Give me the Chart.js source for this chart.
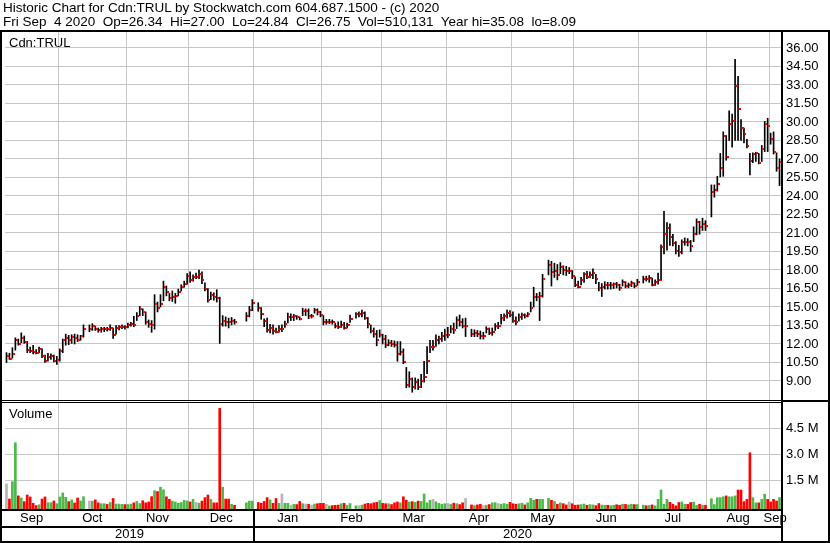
<!DOCTYPE html>
<html>
<head>
<meta charset="utf-8">
<script src="https://cdn.jsdelivr.net/npm/chart.js@4.4.1/dist/chart.umd.min.js"></script>
<style>
  html, body { margin: 0; padding: 0; background: #fff; }
  #wrap { position: relative; width: 830px; height: 543px; overflow: hidden; font-family: Arial, "Liberation Sans", sans-serif; color: #000; }
  #chart { position: absolute; left: 0; top: 0; display: block; }
  .txt { position: absolute; white-space: pre; font-size: 13.5px; line-height: 14px; }
  .lbl { position: absolute; white-space: pre; font-size: 13px; line-height: 15px; }
</style>
</head>
<body>
<div id="wrap">
  <canvas id="chart" width="830" height="543"></canvas>
  <div class="txt" style="left:3px;top:1px">Historic Chart for Cdn:TRUL by Stockwatch.com 604.687.1500 - (c) 2020</div>
  <div class="txt" style="left:3px;top:15px">Fri Sep  4 2020  Op=26.34  Hi=27.00  Lo=24.84  Cl=26.75  Vol=510,131  Year hi=35.08  lo=8.09</div>
  <div class="lbl" style="left:9px;top:35px">Cdn:TRUL</div>
  <div class="lbl" style="left:9px;top:406px">Volume</div>
</div>
<script>
// one slot per weekday, Sep 5 2019 .. Sep 4 2020; null = market holiday
const months = ['Sep', 'Oct', 'Nov', 'Dec', 'Jan', 'Feb', 'Mar', 'Apr', 'May', 'Jun', 'Jul', 'Aug', 'Sep'];
const monthDays = [18, 23, 21, 22, 23, 20, 22, 22, 21, 22, 23, 21, 4];
const years = ['2019', '2020'];
const yearDays = [84, 178];

const priceTicks = [9, 10.5, 12, 13.5, 15, 16.5, 18, 19.5, 21, 22.5, 24, 25.5, 27, 28.5, 30, 31.5, 33, 34.5, 36];
const volumeTicks = [1500000, 3000000, 4500000];

const closes = [
  11.0, 10.8, 11.15, 12.3, 12.0, 12.5, 12.2, 11.5, 11.45, 11.35, 11.3, 11.6, 11.0, 10.6, 10.95, 11.0, 10.65, 10.7,
  11.4, 12.3, 12.5, 12.35, 12.55, 12.5, 12.35, 12.65, 13.25, null, 13.25, 13.45, 13.25, 13.1, 13.2, 13.25, 13.2, 13.3, 12.75, 13.3, 13.35, 13.4, 13.35,
  13.55, 13.6, 13.5, 14.25, 14.8, 14.6, 13.75, 13.65, 13.5, 15.25, 14.9, 15.25, 16.65, 16.25, 15.7, 15.85, 15.9, 16.2, 16.65, 16.9, 17.5,
  17.2, 17.45, 17.45, 17.65, 17.2, 16.45, 15.6, 15.95, 15.85, 15.7, 13.65, 13.9, 13.8, 13.75, 13.85, 13.75, null, null, null, 14.25, 14.75, 15.3,
  null, 14.9, 14.45, 13.85, 13.15, 13.3, 13.05, 13.0, 13.25, 13.25, 13.6, 14.15, 14.15, 14.25, 14.15, 14.05, 14.65, 14.65, 14.25, 14.25, 14.75, 14.6, 14.35,
  13.75, 13.75, 13.8, 13.75, 13.45, 13.35, 13.55, 13.3, 13.5, 14.05, null, 14.4, 14.4, 14.55, 14.1, 13.6, 13.05, 12.8, 12.3, 12.75,
  12.4, 11.95, 12.1, 12.0, 11.95, 11.2, 11.35, 10.5, 8.65, 9.2, 8.55, 8.9, 8.55, 9.0, 9.35, 10.6, 11.75, 11.75, 12.35, 12.4, 12.65, 12.75,
  12.75, 13.2, 13.15, 13.95, 13.8, 13.45, 13.45, null, 12.8, 12.9, 12.8, 12.65, 12.65, 13.2, 12.9, 12.95, 13.45, 13.45, 14.1, 14.25, 14.55, 14.35,
  13.9, 13.75, 14.2, 14.35, 14.25, 14.45, 14.95, 15.85, 15.8, 15.9, 17.3, null, 18.4, 17.8, 17.95, 17.6, 18.25, 18.0, 17.95, 17.95, 17.5,
  16.8, 16.6, 17.15, 17.7, 17.4, 17.6, 17.75, 17.25, 16.55, 16.65, 16.8, 16.75, 16.8, 16.85, 16.8, 16.5, 17.05, 16.7, 16.75, 16.95, 16.7, 17.05,
  null, 17.3, 17.25, 17.35, 16.8, 17.05, 17.2, 19.9, 20.95, 21.4, 20.7, 20.15, 19.5, 19.45, 20.25, 20.3, 20.25, 19.95, 20.95, 21.9, 21.5, 21.75, 21.6,
  null, 24.3, 24.5, 25.0, 26.25, 28.9, 27.15, 29.85, 30.05, 32.95, 31.05, 29.55, 29.05, 28.05, 26.85, 27.4, 27.45, 26.7, 27.85, 29.8, 29.7,
  28.65, 27.6, 26.3, 26.75
];

const highs = [
  11.3, 11.25, 11.7, 12.5, 12.4, 12.9, 12.65, 12.2, 11.75, 11.9, 11.55, 11.75, 11.6, 11.1, 11.25, 11.2, 11.1, 11.0,
  11.6, 12.4, 12.8, 12.7, 12.75, 12.8, 12.75, 12.7, 13.55, null, 13.55, 13.65, 13.45, 13.3, 13.35, 13.35, 13.35, 13.55, 13.3, 13.5, 13.5, 13.55, 13.5,
  13.7, 13.75, 14.25, 14.55, 15.05, 14.85, 14.6, 13.95, 13.9, 16.0, 15.4, 16.0, 17.1, 16.7, 16.1, 16.3, 16.1, 16.45, 16.8, 17.1, 17.7,
  17.85, 17.6, 17.75, 18.0, 17.85, 16.95, 16.5, 16.2, 16.15, 16.4, 15.8, 14.3, 14.2, 14.1, 14.15, 14.0, null, null, null, 14.55, 15.05, 15.6,
  null, 15.35, 14.95, 14.05, 14.1, 13.6, 13.55, 13.3, 13.5, 13.55, 13.85, 14.5, 14.45, 14.4, 14.3, 14.2, 14.9, 14.85, 14.85, 14.4, 14.9, 14.85, 14.65,
  14.3, 14.0, 14.0, 13.95, 13.7, 13.8, 13.85, 13.75, 13.7, 14.35, null, 14.55, 14.6, 14.75, 14.6, 14.15, 13.55, 13.3, 13.1, 13.15,
  12.8, 12.7, 12.35, 12.3, 12.25, 12.2, 12.2, 11.6, 10.1, 9.75, 9.25, 9.25, 9.15, 9.55, 10.6, 11.8, 12.3, 12.3, 12.75, 12.65, 12.95, 13.2,
  13.35, 13.5, 13.7, 14.2, 14.35, 14.05, 14.1, null, 13.2, 13.15, 13.1, 13.05, 12.95, 13.4, 13.3, 13.3, 13.65, 13.75, 14.4, 14.45, 14.75, 14.7,
  14.6, 14.2, 14.45, 14.5, 14.45, 14.55, 15.4, 16.6, 16.1, 16.2, 17.65, null, 18.8, 18.7, 18.55, 18.45, 18.6, 18.35, 18.3, 18.2, 17.95,
  17.45, 17.1, 17.4, 17.8, 17.9, 17.85, 18.1, 17.65, 17.0, 16.9, 17.05, 17.0, 17.0, 16.95, 17.0, 16.85, 17.2, 17.05, 16.95, 17.1, 16.95, 17.25,
  null, 17.5, 17.5, 17.55, 17.35, 17.2, 17.75, 20.05, 22.75, 21.85, 21.75, 20.9, 20.3, 20.0, 20.45, 20.6, 20.55, 20.4, 21.5, 22.15, 21.95, 22.2, 22.0,
  null, 24.9, 24.9, 25.6, 27.45, 29.2, 28.9, 30.9, 30.65, 35.08, 33.7, 30.2, 29.5, 28.6, 27.45, 27.5, 27.55, 27.45, 28.1, 30.05, 30.3,
  29.1, 29.2, 27.5, 27.0
];

const lows = [
  10.5, 10.75, 10.85, 11.5, 11.9, 12.1, 12.05, 11.3, 11.3, 11.2, 11.2, 11.3, 10.9, 10.5, 10.6, 10.75, 10.55, 10.35,
  10.6, 11.3, 11.9, 11.95, 12.05, 12.0, 12.2, 12.3, 12.55, null, 13.0, 13.1, 13.1, 12.95, 12.95, 13.0, 13.05, 13.1, 12.45, 12.8, 13.15, 13.25, 13.2,
  13.3, 13.45, 13.4, 13.9, 14.3, 14.3, 13.6, 13.35, 12.95, 13.2, 14.6, 15.0, 15.5, 15.9, 15.5, 15.45, 15.3, 15.9, 16.3, 16.6, 16.85,
  17.0, 17.1, 17.3, 17.3, 16.9, 16.3, 15.4, 15.6, 15.55, 15.4, 12.05, 13.45, 13.45, 13.3, 13.55, 13.6, null, null, null, 13.85, 14.2, 14.7,
  null, 14.65, 14.0, 13.4, 12.95, 12.9, 12.8, 12.9, 12.95, 13.0, 13.35, 13.7, 13.9, 13.9, 14.0, 13.95, 14.3, 14.3, 14.05, 14.1, 14.5, 14.35, 14.2,
  13.55, 13.6, 13.65, 13.6, 13.3, 13.25, 13.35, 13.2, 13.3, 13.75, null, 14.1, 14.2, 14.2, 14.0, 13.3, 12.9, 12.55, 11.85, 12.55,
  12.0, 11.7, 11.85, 11.8, 11.75, 10.6, 11.1, 10.4, 8.45, 8.5, 8.09, 8.35, 8.3, 8.45, 8.9, 9.6, 11.3, 11.5, 11.8, 12.0, 12.2, 12.3,
  12.5, 12.9, 12.85, 13.25, 13.45, 13.3, 12.6, null, 12.6, 12.6, 12.6, 12.4, 12.4, 12.9, 12.75, 12.7, 13.1, 13.25, 13.6, 13.9, 14.1, 14.2,
  13.75, 13.55, 13.85, 14.0, 14.1, 14.2, 14.6, 15.0, 15.5, 13.9, 15.8, null, 17.6, 16.7, 17.4, 17.2, 17.7, 17.6, 17.55, 17.7, 17.3,
  16.65, 16.55, 16.8, 17.0, 17.3, 17.35, 17.3, 16.9, 16.3, 15.85, 16.45, 16.45, 16.45, 16.5, 16.55, 16.35, 16.7, 16.55, 16.55, 16.65, 16.55, 16.75,
  null, 16.95, 17.1, 17.0, 16.7, 16.75, 16.85, 17.15, 19.3, 19.6, 20.0, 19.95, 19.3, 19.1, 19.3, 20.0, 19.95, 19.5, 20.3, 20.85, 20.9, 21.2, 21.2,
  null, 22.3, 23.9, 24.4, 25.55, 25.6, 26.9, 28.5, 27.95, 28.5, 28.5, 28.5, 28.3, 27.9, 25.7, 26.7, 26.8, 26.6, 26.8, 27.6, 27.6,
  28.2, 27.4, 26.0, 24.84
];

const volumes = [
  1290000, 420000, 1420000, 3670000, 600000, 480000, 270000, 650000, 540000, 170000, 40000, 90000, 420000, 540000, 210000, 210000, 310000, 150000,
  540000, 770000, 520000, 270000, 370000, 190000, 480000, 310000, 550000, null, 300000, 300000, 370000, 200000, 150000, 150000, 110000, 220000, 450000, 130000, 130000, 110000, 100000,
  100000, 130000, 200000, 280000, 160000, 320000, 200000, 250000, 560000, 900000, 850000, 1100000, 950000, 550000, 400000, 300000, 250000, 170000, 220000, 350000, 310000,
  250000, 400000, 230000, 180000, 300000, 500000, 650000, 400000, 200000, 200000, 5650000, 1100000, 420000, 420000, 120000, 60000, null, null, null, 200000, 300000, 300000,
  null, 220000, 180000, 280000, 500000, 370000, 170000, 450000, 170000, 710000, 170000, 170000, 60000, 120000, 100000, 280000, 150000, 130000, 120000, 70000, 130000, 150000, 170000,
  170000, 120000, 20000, 40000, 60000, 70000, 150000, 170000, 50000, 160000, null, 30000, 30000, 70000, 130000, 170000, 150000, 200000, 230000, 330000,
  170000, 150000, 150000, 100000, 200000, 250000, 200000, 550000, 350000, 250000, 270000, 230000, 300000, 280000, 710000, 200000, 350000, 400000, 260000, 170000, 120000, 150000,
  160000, 120000, 180000, 150000, 100000, 200000, 450000, null, 80000, 40000, 80000, 120000, 40000, 60000, 100000, 200000, 210000, 160000, 120000, 160000, 120000, 230000,
  150000, 120000, 150000, 180000, 80000, 200000, 460000, 350000, 400000, 400000, 400000, null, 460000, 350000, 280000, 120000, 200000, 150000, 80000, 250000, 150000,
  60000, 80000, 100000, 130000, 60000, 100000, 80000, 40000, 160000, 70000, 60000, 60000, 40000, 60000, 90000, 60000, 120000, 110000, 80000, 120000, 100000, 100000,
  null, 70000, 30000, 50000, 80000, 30000, 400000, 940000, 120000, 400000, 230000, 120000, 30000, 220000, 250000, 120000, 110000, 220000, 240000, 50000, 120000, 60000, 60000,
  null, 440000, 100000, 500000, 500000, 550000, 600000, 550000, 550000, 600000, 940000, 940000, 270000, 400000, 3090000, 500000, 200000, 200000, 400000, 700000, 400000,
  250000, 400000, 300000, 510131
];

// ---- derived layout helpers ----
const nSlots = closes.length;
const monthStarts = [];
monthDays.reduce((acc, d) => { monthStarts.push(acc); return acc + d; }, 0);
const monthCenters = monthStarts.map((s, i) => s + monthDays[i] / 2 - 0.5);
const yearStarts = [];
yearDays.reduce((acc, d) => { yearStarts.push(acc); return acc + d; }, 0);
const yearCenters = yearStarts.map((s, i) => s + yearDays[i] / 2 - 0.5);

const GREEN = '#4cb848', RED = '#ff0000', GREY = '#b4b4b4';

const rangeData = [], closeData = [], volData = [], volColors = [];
let prevClose = null;
closes.forEach((c, i) => {
  if (c == null) return;
  rangeData.push({ x: i, y: [lows[i], highs[i]] });
  closeData.push({ x: i, y: c });
  volData.push({ x: i, y: volumes[i] });
  volColors.push(prevClose == null || c === prevClose ? GREY : (c > prevClose ? GREEN : RED));
  prevClose = c;
});

// red close tick, sits just right of the bar
const closeTick = document.createElement('canvas');
closeTick.width = 5; closeTick.height = 2;
const tctx = closeTick.getContext('2d');
tctx.fillStyle = RED;
tctx.fillRect(3, 0, 2, 2);

// price panel 32..401, volume panel 401..509
const priceMin = 7.378, priceMax = 37.297;
const volMin = -156000, volMax = 6075000;

const frame = {
  id: 'frame',
  afterDraw(chart) {
    const ctx = chart.ctx, a = chart.chartArea;
    const W = chart.width, H = chart.height;
    const xm = chart.scales.xMonth;
    const vTop = chart.scales.yv.top;
    ctx.save();
    ctx.fillStyle = '#000';
    ctx.fillRect(0, 30, W, 2);
    ctx.fillRect(0, 30, 2, H - 30);
    ctx.fillRect(a.right, 30, 2, H - 30);
    ctx.fillRect(W - 2, 30, 2, H - 30);
    ctx.fillRect(0, Math.round(vTop) - 1, a.right, 1);
    ctx.fillRect(0, Math.round(vTop) + 1, a.right, 1);
    ctx.fillRect(a.right, Math.round(vTop) - 1, W - a.right, 2);
    ctx.fillRect(0, xm.top, a.right, 2);
    ctx.fillRect(0, xm.bottom, a.right, 2);
    ctx.fillRect(0, H - 2, W, 2);
    const yb = Math.round(chart.scales.x.getPixelForValue(yearStarts[1] - 0.5));
    ctx.fillRect(yb - 1, xm.top, 2, H - xm.top);
    ctx.restore();
  }
};

Chart.defaults.font.family = 'Arial, "Liberation Sans", sans-serif';
Chart.defaults.font.size = 13;
Chart.defaults.color = '#000';

const gridColor = '#c6c6c6';

new Chart(document.getElementById('chart'), {
  type: 'bar',
  data: {
    datasets: [
      {
        label: 'Range',
        data: rangeData,
        xAxisID: 'x', yAxisID: 'y',
        backgroundColor: '#000',
        borderWidth: 0,
        barThickness: 1,
        maxBarThickness: 1.2,
        grouped: false,
        order: 2
      },
      {
        type: 'scatter',
        label: 'Close',
        data: closeData,
        xAxisID: 'x', yAxisID: 'y',
        pointStyle: closeTick,
        pointRadius: 2,
        order: 1
      },
      {
        label: 'Volume',
        data: volData,
        xAxisID: 'x', yAxisID: 'yv',
        backgroundColor: volColors,
        borderWidth: 0,
        base: volMin,
        barThickness: 2,
        maxBarThickness: 2,
        grouped: false,
        order: 3
      }
    ]
  },
  options: {
    responsive: false,
    animation: false,
    devicePixelRatio: 1,
    events: [],
    layout: { padding: { top: 32, left: 0, right: 0, bottom: 1 } },
    plugins: { legend: { display: false }, tooltip: { enabled: false } },
    scales: {
      x: {
        type: 'linear', position: 'top',
        min: -0.5, max: nSlots - 0.5, offset: false,
        afterBuildTicks: s => { s.ticks = monthStarts.slice(1).map(v => ({ value: v - 0.5 })); },
        afterFit: s => { s.height = 0; },
        ticks: { display: false },
        grid: { color: gridColor, drawTicks: false, offset: false },
        border: { display: false }
      },
      y: {
        type: 'linear', position: 'right', stack: 'panels', stackWeight: 369,
        min: priceMin, max: priceMax,
        afterBuildTicks: s => { s.ticks = priceTicks.map(v => ({ value: v })); },
        afterFit: s => { s.width = 49; },
        ticks: { autoSkip: false, padding: 5, callback: v => v.toFixed(2) },
        grid: { color: gridColor, drawTicks: false },
        border: { display: false }
      },
      yv: {
        type: 'linear', position: 'right', stack: 'panels', stackWeight: 108,
        min: volMin, max: volMax,
        afterBuildTicks: s => { s.ticks = volumeTicks.map(v => ({ value: v })); },
        afterFit: s => { s.width = 49; },
        ticks: { autoSkip: false, padding: 5, callback: v => (v / 1e6).toFixed(1) + ' M' },
        grid: { color: gridColor, drawTicks: false },
        border: { display: false }
      },
      xMonth: {
        type: 'linear', position: 'bottom',
        min: -0.5, max: nSlots - 0.5, offset: false,
        afterBuildTicks: s => { s.ticks = monthCenters.map(v => ({ value: v })); },
        afterFit: s => { s.height = 17; },
        ticks: { autoSkip: false, maxRotation: 0, padding: 2, callback: (v, i) => months[i] },
        grid: { display: false, drawTicks: false },
        border: { display: false }
      },
      xYear: {
        type: 'linear', position: 'bottom',
        min: -0.5, max: nSlots - 0.5, offset: false,
        afterBuildTicks: s => { s.ticks = yearCenters.map(v => ({ value: v })); },
        afterFit: s => { s.height = 16; },
        ticks: { autoSkip: false, maxRotation: 0, padding: 1, callback: (v, i) => years[i] },
        grid: { display: false, drawTicks: false },
        border: { display: false }
      }
    }
  },
  plugins: [frame]
});
</script>
</body>
</html>
